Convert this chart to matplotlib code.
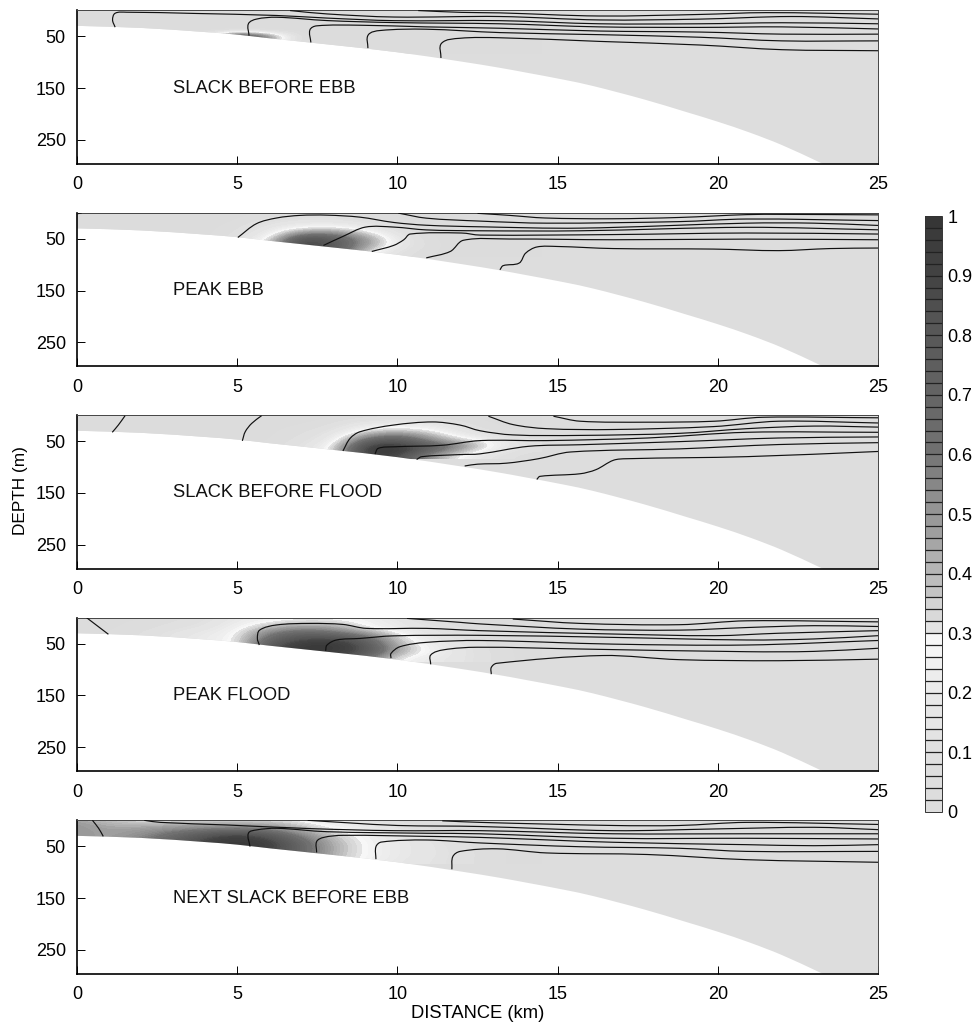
import numpy as np
import matplotlib
matplotlib.use('Agg')
import matplotlib.pyplot as plt
from matplotlib.colors import ListedColormap, BoundaryNorm
from matplotlib.cm import ScalarMappable
from matplotlib.path import Path
from matplotlib.patches import PathPatch

plt.rcParams['font.family'] = ['Liberation Sans', 'DejaVu Sans']

W, H = 974.0, 1025.0

panel_labels = ['SLACK BEFORE EBB', 'PEAK EBB', 'SLACK BEFORE FLOOD', 'PEAK FLOOD', 'NEXT SLACK BEFORE EBB']
panel_tops = [10.3, 212.8, 415.2, 617.7, 820.3]
x_ticks = [0, 5, 10, 15, 20, 25]
depth_ticks = [50, 150, 250]
bar_ticks = [0, 0.1, 0.2, 0.3, 0.4, 0.5, 0.6, 0.7, 0.8, 0.9, 1]
bar_tick_labels = ['0', '0.1', '0.2', '0.3', '0.4', '0.5', '0.6', '0.7', '0.8', '0.9', '1']

# grey of each colour bar cell, from 0 up to 1
bar_greys = [.865, .865, .87, .87, .88,
             .88, .89, .90, .90, .91,
             .92, .93, .94, .96, .97,
             .89, .85, .83, .77, .74,
             .71, .69, .65, .62, .60,
             .58, .56, .53, .50, .47,
             .44, .44, .42, .41, .40,
             .39, .38, .37, .36, .35,
             .34, .33, .31, .29, .27,
             .26, .25, .24, .23, .21]

# sea bed (km, m)
bed_x = [0, 2, 4, 5, 6, 8, 10, 12, 13.2, 14, 15.2, 16.1, 17.7, 19, 20, 21, 22, 23.2, 23.5]
bed_depth = [30, 34, 42, 47, 54, 67, 81, 99, 111, 120, 134, 146, 172, 196, 215, 236, 260, 294, 303]

# shading tables: columns are km 0..14, rows are depth 0, 10 .. 80 m
shade_x = list(range(15))
shade_depth = [0, 10, 20, 30, 40, 50, 60, 70, 80]

shade_1 = [
    [.01, .01, .01, .01, .01, .01, .01, .01, .01, .01, .01, .01, .01, .01, .01],
    [.01, .01, .01, .01, .01, .01, .01, .01, .01, .01, .01, .01, .01, .01, .01],
    [.01, .01, .01, .01, .01, .01, .01, .01, .01, .01, .01, .01, .01, .01, .01],
    [.01, .01, .01, .01, .01, .01, .01, .01, .01, .01, .01, .01, .01, .01, .01],
    [.01, .01, .01, .01, .01, .01, .01, .01, .01, .01, .01, .01, .01, .01, .01],
    [.01, .01, .01, .01, .01, .99, .50, .01, .01, .01, .01, .01, .01, .01, .01],
    [.01, .01, .01, .01, .01, .99, .50, .01, .01, .01, .01, .01, .01, .01, .01],
    [.01, .01, .01, .01, .01, .01, .01, .01, .01, .01, .01, .01, .01, .01, .01],
    [.01, .01, .01, .01, .01, .01, .01, .01, .01, .01, .01, .01, .01, .01, .01],
]
shade_2 = [
    [.01, .01, .01, .01, .01, .02, .04, .06, .06, .04, .02, .01, .01, .01, .01],
    [.01, .01, .01, .01, .01, .03, .08, .11, .11, .08, .04, .01, .01, .01, .01],
    [.01, .01, .01, .01, .01, .05, .12, .17, .18, .13, .05, .01, .01, .01, .01],
    [.01, .01, .01, .01, .02, .07, .16, .30, .32, .22, .08, .02, .01, .01, .01],
    [.01, .01, .01, .01, .02, .09, .20, .56, .56, .36, .13, .03, .01, .01, .01],
    [.01, .01, .01, .01, .03, .11, .26, .88, .76, .50, .18, .04, .01, .01, .01],
    [.01, .01, .01, .01, .03, .13, .36, .96, .80, .50, .20, .05, .01, .01, .01],
    [.01, .01, .01, .01, .03, .13, .36, .96, .80, .42, .15, .05, .01, .01, .01],
    [.01, .01, .01, .01, .03, .13, .36, .90, .70, .30, .10, .04, .01, .01, .01],
]
shade_3 = [
    [.01, .01, .01, .01, .01, .01, .01, .01, .03, .05, .06, .05, .03, .01, .01],
    [.01, .01, .01, .01, .01, .01, .01, .02, .05, .10, .12, .10, .06, .02, .01],
    [.01, .01, .01, .01, .01, .01, .02, .04, .08, .20, .24, .20, .10, .04, .01],
    [.01, .01, .01, .01, .01, .01, .03, .06, .12, .30, .34, .29, .14, .06, .02],
    [.01, .01, .01, .01, .01, .01, .03, .08, .16, .48, .62, .42, .22, .12, .04],
    [.01, .01, .01, .01, .01, .01, .04, .10, .20, .72, .82, .56, .36, .25, .08],
    [.01, .01, .01, .01, .01, .02, .05, .12, .26, .92, .96, .76, .52, .26, .10],
    [.01, .01, .01, .01, .01, .02, .05, .12, .30, .99, .99, .70, .40, .20, .08],
    [.01, .01, .01, .01, .01, .02, .05, .12, .30, .95, .90, .50, .25, .12, .05],
]
shade_4 = [
    [.02, .02, .03, .06, .10, .20, .25, .28, .28, .25, .15, .06, .03, .01, .01],
    [.02, .03, .05, .08, .12, .22, .30, .34, .33, .27, .20, .10, .05, .02, .01],
    [.02, .03, .06, .10, .15, .25, .42, .52, .48, .30, .20, .14, .08, .03, .01],
    [.02, .04, .08, .14, .20, .27, .58, .70, .65, .50, .28, .15, .10, .04, .01],
    [.02, .04, .08, .15, .22, .28, .68, .85, .85, .70, .35, .20, .12, .05, .02],
    [.02, .04, .08, .15, .22, .28, .78, .95, .99, .80, .40, .22, .14, .06, .02],
    [.02, .04, .08, .15, .22, .28, .85, .99, .99, .85, .45, .25, .15, .06, .02],
    [.02, .04, .08, .15, .22, .28, .85, .99, .95, .80, .38, .25, .15, .07, .02],
    [.02, .04, .08, .15, .22, .28, .85, .95, .85, .60, .28, .20, .15, .07, .02],
]
shade_5 = [
    [.45, .35, .30, .30, .30, .30, .30, .26, .15, .10, .05, .03, .02, .01, .01],
    [.50, .42, .40, .42, .45, .45, .45, .34, .25, .20, .10, .06, .03, .02, .01],
    [.50, .46, .48, .55, .60, .65, .60, .42, .30, .22, .15, .08, .05, .02, .01],
    [.50, .46, .52, .65, .80, .90, .80, .55, .35, .26, .18, .12, .06, .03, .01],
    [.50, .46, .58, .70, .90, .99, .90, .65, .40, .27, .20, .14, .08, .04, .02],
    [.50, .46, .60, .75, .95, .99, .95, .70, .42, .28, .20, .15, .09, .05, .02],
    [.50, .46, .60, .75, .95, .99, .90, .70, .42, .28, .20, .15, .10, .05, .02],
    [.50, .46, .60, .75, .95, .99, .90, .70, .40, .28, .20, .15, .10, .05, .02],
    [.50, .46, .60, .75, .95, .99, .90, .70, .40, .26, .18, .14, .10, .05, .02],
]
shades = [shade_1, shade_2, shade_3, shade_4, shade_5]

# contour lines (km, m)
lines_1 = [
    [(10.65, .5), (12, 4), (13.2, 5), (16.3, 11), (19.45, 8), (21.5, 4.5), (25, 7.5)],
    [(6.65, .5), (7.8, 7), (9.9, 13), (13.2, 12), (16.3, 18.6), (19.45, 17), (22.3, 12), (25, 16.6)],
    [(1.19, 32.6), (1.11, 18.5), (1.19, 5.7), (1.55, 3.7), (3.63, 6), (6.23, 10), (7.8, 15), (9.9, 20), (13.2, 20), (16.3, 26), (19.45, 26), (22, 24), (25, 26)],
    [(5.37, 49), (5.35, 26), (5.6, 17), (6.23, 13.4), (7.8, 19.8), (9.9, 23.7), (13.2, 26), (16.3, 32), (19.45, 33), (22, 32), (25, 36)],
    [(7.3, 62), (7.27, 37.8), (7.48, 30), (8.83, 28.8), (10.9, 32), (13.2, 34.6), (16.3, 40), (19.45, 42), (22, 46), (25, 46)],
    [(9.08, 73), (9.09, 47.5), (9.46, 39), (10.9, 36.5), (13.2, 43), (16.3, 47), (19.45, 52), (22, 59), (25, 59)],
    [(11.36, 92), (11.38, 63.5), (11.95, 54), (13.2, 53), (16.3, 60), (19.45, 67), (22, 76), (25, 78)],
]
lines_2 = [
    [(0, 2), (.15, 0)],
    [(12.5, 1), (13.5, 5), (14.6, 10), (16.7, 11.5), (18.8, 9), (20.9, 3.5), (22, 3), (25, 4)],
    [(10.03, .6), (10.9, 10.3), (12.58, 16), (14.66, 20), (18.8, 17), (20.9, 12), (25, 15)],
    [(5.02, 47.6), (5.6, 21), (6.23, 10), (6.96, 5), (7.8, 4.5), (8.83, 8.4), (9.88, 18.6), (10.9, 24), (12.58, 27), (15.7, 29.6), (20.9, 20), (23, 20), (25, 24.4)],
    [(7.69, 63), (8.3, 45.6), (9, 27.6), (9.9, 27.6), (10.9, 33), (12.58, 34.7), (15.7, 34.7), (20.9, 28), (25, 32.8)],
    [(9.2, 74.6), (9.88, 63), (10.2, 52), (10.4, 41), (12, 39), (12.58, 43), (16.74, 42), (20.9, 39), (25, 41)],
    [(10.9, 87), (11.65, 74.6), (12.06, 53), (13.5, 50.6), (16.74, 52), (20.9, 50.8), (25, 52)],
    [(13.2, 110), (13.3, 102), (13.8, 97), (14, 78), (14.35, 66), (15, 65), (16.74, 69), (19.86, 70), (21.9, 73), (23.5, 69), (25, 68)],
]
lines_3 = [
    [(1.1, 33), (1.29, 19), (1.5, 1)],
    [(5.16, 49.5), (5.25, 32), (5.45, 16), (5.76, 1)],
    [(14.87, 2), (15.7, 11.6), (17.8, 13.5), (19.9, 11.6), (21.4, 4), (25, 5)],
    [(12.84, 2), (13.6, 18), (14.66, 26), (16.74, 27.6), (19.86, 22), (21.9, 11.6), (25, 15)],
    [(8.3, 69), (8.52, 45), (8.83, 32), (9.88, 19), (11.1, 13), (11.95, 19), (12.58, 30), (13.6, 38), (15.7, 39), (18.8, 35), (20.9, 26), (23, 21), (25, 23)],
    [(9.3, 75), (9.4, 64), (9.88, 61), (11.4, 58), (12.58, 49), (14.66, 49), (17.8, 44), (20.9, 33), (25, 33)],
    [(10.6, 85.5), (10.76, 80), (11.95, 76), (12.58, 74.6), (14.1, 60), (15.7, 57), (18.8, 51), (21.9, 44), (25, 42)],
    [(12.1, 98), (12.5, 94.5), (13.4, 92.6), (14.4, 84), (15.4, 71), (18.8, 65), (21.9, 56.6), (25, 53)],
    [(14.35, 124), (14.45, 118), (15.7, 113), (16.2, 105), (16.74, 87), (17.15, 84), (20.9, 80), (25, 70)],
]
lines_4 = [
    [(.3, 0), (.98, 32)],
    [(13.6, 2.6), (15.7, 11), (18.8, 13.5), (20.9, 6), (25, 8)],
    [(10.3, 1.3), (11.96, 9), (12.58, 12), (15.7, 22), (18.8, 24), (20.9, 19), (23, 15.4), (25, 17)],
    [(5.69, 52.7), (5.63, 40), (5.7, 24), (6.23, 14), (7.27, 11), (8.3, 13), (9.03, 20.6), (10.9, 20.6), (12.58, 25), (16.74, 31.5), (19.9, 34.7), (21.9, 30), (25, 25)],
    [(7.76, 64), (7.8, 53), (8.1, 43), (8.83, 40), (9.88, 35), (12.58, 34), (16.74, 38), (20.9, 43), (23, 41), (25, 34.7)],
    [(9.8, 78), (9.8, 69), (10.08, 56), (10.9, 47.6), (12.58, 44), (16.74, 51), (20.9, 52.7), (25, 44)],
    [(11.04, 90), (11.04, 72), (11.44, 62), (12.5, 57), (15.7, 60.4), (20.9, 65.6), (23, 65), (25, 59)],
    [(12.93, 109), (12.93, 96), (13.1, 88), (16.4, 73), (18.8, 81), (21.9, 83), (25, 80)],
]
lines_5 = [
    [(.48, 0), (.67, 15), (.82, 31)],
    [(11.4, 1), (12.58, 4), (16.74, 10), (18.8, 10), (20.9, 4), (25, 8)],
    [(7.2, 0), (8.5, 5), (10, 10), (12.58, 12), (16.74, 20), (19.9, 16.7), (23, 13.5), (25, 18)],
    [(2.1, 0), (2.6, 4), (4.67, 9), (7.27, 16), (9.9, 20), (12.58, 20), (16.74, 26), (20.9, 26), (25, 26)],
    [(5.4, 50.8), (5.35, 25), (5.6, 18.6), (6.23, 15.4), (7.8, 22), (10.9, 25), (12.58, 26), (16.74, 34.7), (20.9, 34.7), (25, 36)],
    [(7.48, 62), (7.48, 41), (7.7, 33), (8.3, 29), (10.9, 31), (12.58, 33), (16.74, 42.4), (20.9, 47), (23, 49), (25, 47)],
    [(9.33, 75), (9.33, 51), (9.5, 42), (10.9, 38), (12.58, 43.7), (15.7, 51), (18.8, 54), (20.9, 60), (25, 60)],
    [(11.7, 94.5), (11.73, 70), (11.96, 60), (13.1, 55), (14.66, 63), (17.8, 66), (20.9, 76), (25, 81)],
]
lines = [lines_1, lines_2, lines_3, lines_4, lines_5]


def smooth_path(pts):
    # bezier through the read points, so the curves do not look like polygons
    p = np.array(pts, dtype=float) * [32.04, 0.5185]
    d = np.zeros_like(p)
    d[1:-1] = p[2:] - p[:-2]
    d[0] = p[1] - p[0]
    d[-1] = p[-1] - p[-2]
    d = d / np.hypot(d[:, 0], d[:, 1])[:, None]
    verts = [p[0]]
    codes = [Path.MOVETO]
    for i in range(len(p) - 1):
        seg = np.hypot(*(p[i + 1] - p[i])) / 3.0
        verts += [p[i] + d[i] * seg, p[i + 1] - d[i + 1] * seg, p[i + 1]]
        codes += [Path.CURVE4] * 3
    return np.array(verts) / [32.04, 0.5185], codes


def water_patch(ax, color):
    verts, codes = smooth_path(list(zip(bed_x, bed_depth)))
    verts = list(verts) + [(25, 303), (25, 0), (0, 0), (0, 0)]
    codes = codes + [Path.LINETO, Path.LINETO, Path.LINETO, Path.CLOSEPOLY]
    patch = PathPatch(Path(verts, codes), facecolor=color, edgecolor='none', zorder=1)
    ax.add_patch(patch)
    return patch


grey_cmap = ListedColormap([(g, g, g) for g in bar_greys])
levels = np.linspace(0, 1, len(bar_greys) + 1)
grey_norm = BoundaryNorm(levels, len(bar_greys))

fig = plt.figure(figsize=(W / 100, H / 100), dpi=100)

for i, top in enumerate(panel_tops):
    ax = fig.add_axes([77 / W, 1 - (top + 153.4) / H, 801 / W, 153.4 / H])
    patch = water_patch(ax, str(bar_greys[0]))

    dx = shade_x[1] - shade_x[0]
    dz = shade_depth[1] - shade_depth[0]
    im = ax.imshow(shades[i], cmap=grey_cmap, norm=grey_norm, aspect='auto', zorder=2,
                   extent=[shade_x[0] - dx / 2, shade_x[-1] + dx / 2,
                           shade_depth[-1] + dz / 2, shade_depth[0] - dz / 2],
                   interpolation='bicubic', interpolation_stage='data')
    im.set_clip_path(patch)

    for line in lines[i]:
        verts, codes = smooth_path(line)
        ax.add_patch(PathPatch(Path(verts, codes), facecolor='none', edgecolor='#111111',
                               lw=0.85, zorder=3))

    ax.set_xlim(0, 25)
    ax.set_ylim(296, 0)
    ax.set_xticks(x_ticks)
    ax.set_yticks(depth_ticks)
    ax.tick_params(direction='in', length=6, width=0.7, labelsize=13, pad=9)
    ax.tick_params(axis='y', pad=8)
    for side in ['left', 'bottom']:
        ax.spines[side].set_linewidth(1.2)
        ax.spines[side].set_color('black')
    for side in ['top', 'right']:
        ax.spines[side].set_linewidth(0.7)
        ax.spines[side].set_color('#444444')
    ax.text(3, 150, panel_labels[i], fontsize=13.2, ha='left', va='center', color='#111111')

fig.text(21 / W, 1 - 491 / H, 'DEPTH (m)', rotation=90, ha='center', va='center', fontsize=12.4)
fig.text(478 / W, 1 - 1014 / H, 'DISTANCE (km)', ha='center', va='center', fontsize=13.2)

cax = fig.add_axes([925 / W, 1 - 812 / H, 17 / W, 596 / H])
cb = fig.colorbar(ScalarMappable(norm=grey_norm, cmap=grey_cmap), cax=cax, drawedges=True,
                  ticks=bar_ticks, spacing='proportional')
cb.minorticks_off()
cb.ax.set_yticklabels(bar_tick_labels)
cb.ax.tick_params(length=0, labelsize=13, pad=4)
cb.dividers.set_linewidth(0.9)
cb.dividers.set_color('#222222')
cb.outline.set_linewidth(0.7)
cb.outline.set_edgecolor('#333333')

fig.savefig('out.png', dpi=100)
